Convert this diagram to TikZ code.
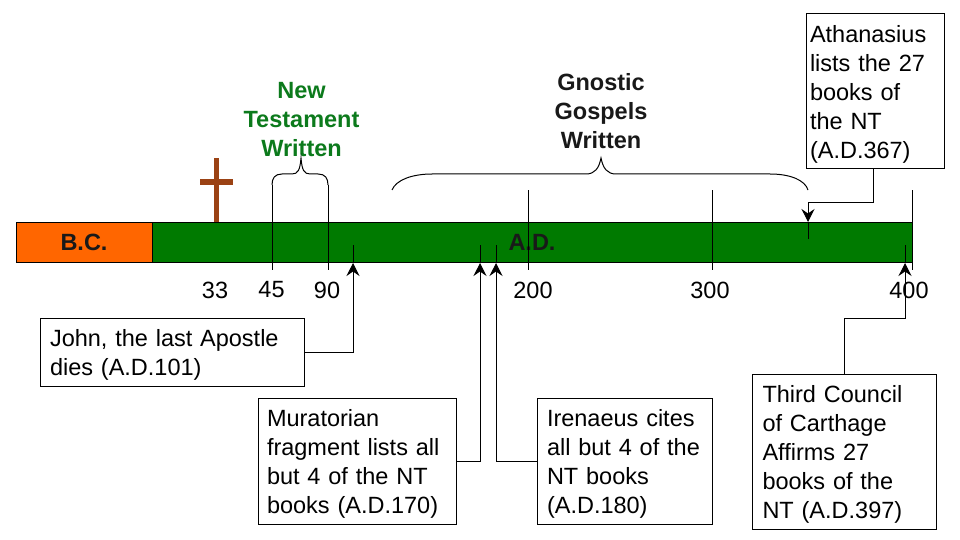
\documentclass[tikz,border=0pt]{standalone}
\usepackage{fontspec}
\setmainfont{Liberation Sans}
\usetikzlibrary{arrows.meta}
\definecolor{barGreen}{RGB}{0,122,0}
\definecolor{titleGreen}{RGB}{12,122,28}
\definecolor{bcOrange}{RGB}{255,102,0}
\definecolor{crossBrown}{RGB}{155,66,20}
\tikzset{
	x=1pt, y=-1pt,
	every node/.style={font=\fontsize{23.5}{29}\selectfont},
	>={Stealth[length=13pt,width=13pt,inset=4.5pt]},
	bar/.style={draw=black, line width=1pt, inner sep=0pt},
	infobox/.style={draw=black, line width=1pt, fill=white, align=left, inner sep=0pt, execute at begin node={\rule{0pt}{22pt}}},
	year/.style={inner sep=0pt},
	title/.style={align=center, inner sep=0pt, font=\fontsize{23.5}{29}\selectfont\bfseries},
	tick/.style={line width=1pt},
	link/.style={line width=1pt, ->},
	baseline}

\begin{document}
\begin{tikzpicture}
	\useasboundingbox (0,0) rectangle (960,540);

	% cross
	\fill[crossBrown] (213.5,158) rectangle (218.5,223);
	\fill[crossBrown] (200,179.5) rectangle (232.5,184.5);

	% time bar
	\node[bar, fill=bcOrange, minimum width=136pt, minimum height=40pt] (bc) at (84,242) {\bfseries\textcolor{black!90}{B.C.}};
	\node[bar, fill=barGreen, minimum width=760pt, minimum height=40pt] (ad) at (532,242) {\bfseries\textcolor{black!90}{A.D.}};

	% years
	\node[year] (y33) at (215,290) {33};
	\node[year] (y45) at (271.5,290) {45};
	\node[year] (y90) at (327,290) {90};
	\node[year] (y200) at (533,290) {200};
	\node[year] (y300) at (710,290) {300};
	\node[year] (y400) at (909,290) {400};

	% titles
	\node[title, text=titleGreen] (nt) at (301.5,119.5) {New\\Testament\\Written};
	\node[title, text=black!90] (gg) at (601,111.5) {Gnostic\\Gospels\\Written};

	% boxes
	\node[infobox, minimum width=264pt, minimum height=68pt, text width=244pt] (john) at (172,352) {John, the last Apostle\\dies (A.D.101)};
	\node[infobox, minimum width=198pt, minimum height=126pt, text width=180pt] (mura) at (357,461) {Muratorian\\fragment lists all\\but 4 of the NT\\books (A.D.170)};
	\node[infobox, minimum width=175pt, minimum height=126pt, text width=155pt] (iren) at (624.5,461) {Irenaeus cites\\all but 4 of the\\NT books\\(A.D.180)};
	\node[infobox, minimum width=184pt, minimum height=155pt, text width=163pt] (carth) at (844,451.5) {Third Council\\of Carthage\\Affirms 27\\books of the\\NT (A.D.397)};
	\node[infobox, minimum width=138pt, minimum height=155pt, text width=130pt] (atha) at (875,91.5) {Athanasius\\lists the 27\\books of\\the NT\\(A.D.367)};

	% ticks on the bar
	\coordinate (t45a) at (272,185);
	\coordinate (t45b) at (272,270);
	\coordinate (t90a) at (328,185);
	\coordinate (t90b) at (328,270);
	\coordinate (t200a) at (528,190);
	\coordinate (t200b) at (528,270);
	\coordinate (t300a) at (712,190);
	\coordinate (t300b) at (712,270);
	\coordinate (t400a) at (912,190);
	\coordinate (t400b) at (912,270);
	\draw[tick] (t45a) -- (t45b);
	\draw[tick] (t90a) -- (t90b);
	\draw[tick] (t200a) -- (t200b);
	\draw[tick] (t300a) -- (t300b);
	\draw[tick] (t400a) -- (t400b);

	% braces
	\draw[tick] (t45a) .. controls (272,178) and (275,174) .. (282,174) -- (292,174)
		.. controls (298,174) and (300,170) .. (301,158)
		.. controls (302,170) and (304,174) .. (310,174) -- (318,174)
		.. controls (325,174) and (328,178) .. (t90a);
	\draw[tick] (392,190) .. controls (396,180) and (412,174) .. (432,174) -- (586,174)
		.. controls (595,174) and (599,168) .. (601,158)
		.. controls (603,168) and (607,174) .. (616,174) -- (770,174)
		.. controls (790,174) and (805,180) .. (808,190);

	% event marks
	\coordinate (e101) at (353,263);
	\coordinate (e101a) at (353,245);
	\coordinate (e170) at (480,263);
	\coordinate (e170a) at (480,245);
	\coordinate (e180) at (496,263);
	\coordinate (e180a) at (496,245);
	\coordinate (e397) at (905,263);
	\coordinate (e397a) at (905,245);
	\coordinate (e367) at (808,222);
	\coordinate (e367a) at (808,239);
	\draw[tick] (e101) -- (e101a);
	\draw[tick] (e170) -- (e170a);
	\draw[tick] (e180) -- (e180a);
	\draw[tick] (e397) -- (e397a);
	\draw[tick] (e367) -- (e367a);

	% connectors
	\draw[link] (john.east) -| (e101);
	\draw[link] (mura.east) -| (e170);
	\draw[link] (iren.west) -| (e180);
	\draw[link] (carth.north) |- (905,318) -- (e397);
	\draw[link] (atha.south -| 873,0) |- (808,202) -- (e367);
\end{tikzpicture}
\end{document}
